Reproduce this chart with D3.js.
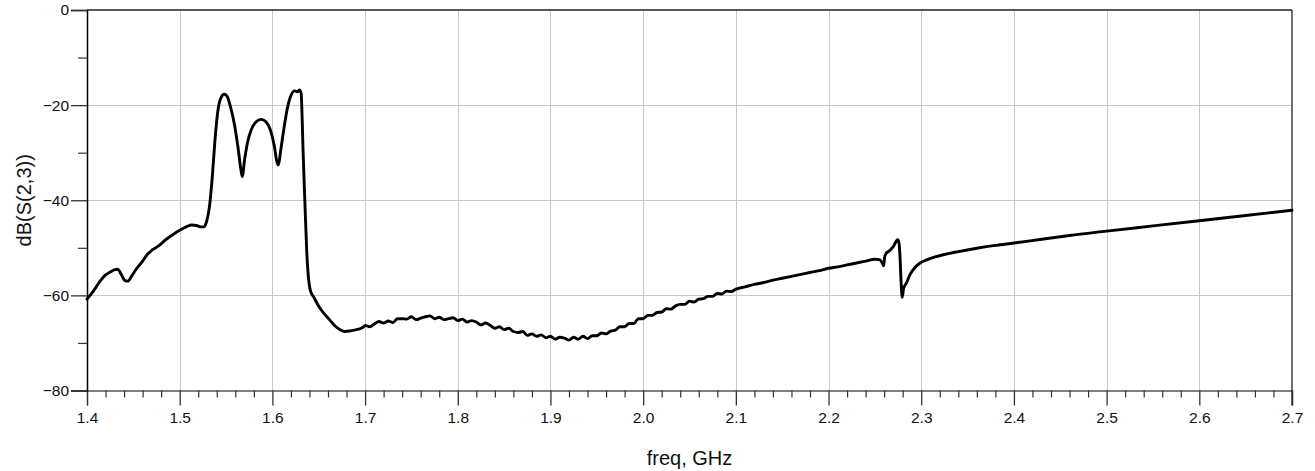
<!DOCTYPE html>
<html>
<head>
<meta charset="utf-8">
<script src="https://cdn.jsdelivr.net/npm/d3@7"></script>
<style>
  html, body { margin: 0; padding: 0; background: #fff; }
  svg { display: block; font-family: "Liberation Sans", Arial, Helvetica, sans-serif; }
</style>
</head>
<body>
<svg id="chart" width="1315" height="471"></svg>
<script>
// ---- Data ----
const freqGHz = [
  1.400,1.405,1.410,1.415,1.420,1.425,1.430,1.433,1.437,1.441,1.444,1.448,1.453,1.460,1.465,1.470,1.478,1.485,1.492,1.500,
  1.507,1.513,1.518,1.523,1.526,1.529,1.532,1.535,1.538,1.541,1.544,1.548,1.551,1.555,1.559,1.563,1.566,1.5675,1.570,1.573,
  1.577,1.582,1.588,1.593,1.598,1.602,1.605,1.6065,1.609,1.612,1.616,1.620,1.624,1.627,1.629,1.631,1.632,1.633,1.635,1.637,
  1.639,1.641,1.645,1.650,1.656,1.662,1.668,1.673,1.678,1.683,1.688,1.693,1.698,
  1.700,1.705,1.710,1.715,1.720,1.725,1.730,1.735,1.740,1.745,1.750,1.755,1.760,1.765,1.770,1.775,1.780,1.785,1.790,1.795,
  1.800,1.805,1.810,1.815,1.820,1.825,1.830,1.835,1.840,1.845,1.850,1.855,1.860,1.865,1.870,1.875,1.880,1.885,1.890,1.895,
  1.900,1.905,1.910,1.915,1.920,1.925,1.930,1.935,1.940,1.945,1.950,1.955,1.960,1.965,1.970,1.975,1.980,1.985,1.990,1.995,
  2.000,2.005,2.010,2.015,2.020,2.025,2.030,2.035,2.040,2.045,2.050,2.055,2.060,2.065,2.070,2.075,2.080,2.085,2.090,2.095,
  2.100,2.110,2.120,2.130,2.140,2.150,2.160,2.170,2.180,2.190,2.200,2.210,2.220,2.230,2.240,2.250,
  2.255,2.258,2.2595,2.2605,2.262,2.266,2.270,2.2745,
  2.276,2.277,2.278,2.2795,2.281,2.284,2.288,2.293,2.298,2.305,2.315,2.325,2.340,2.360,2.380,2.400,2.430,2.460,2.500,2.550,
  2.600,2.650,2.700
];
const dbS23 = [
  -60.8,-59.6,-58.2,-56.8,-55.7,-55.1,-54.6,-54.5,-55.6,-56.9,-57.0,-56.0,-54.5,-52.8,-51.4,-50.5,-49.5,-48.3,-47.3,-46.3,
  -45.6,-45.2,-45.3,-45.6,-45.6,-44.5,-41.5,-35.5,-27.5,-21.5,-18.7,-17.7,-18.1,-20.5,-24.0,-29.0,-33.5,-35.0,-31.5,-28.0,
  -25.3,-23.6,-23.0,-23.5,-25.3,-28.5,-32.0,-32.6,-29.5,-25.5,-20.8,-18.0,-17.0,-17.2,-16.8,-17.5,-22.0,-29.0,-40.0,-50.5,
  -56.5,-59.0,-60.5,-62.3,-63.9,-65.2,-66.5,-67.2,-67.6,-67.5,-67.3,-67.1,-66.7,
  -66.3,-66.6,-66.0,-65.5,-65.8,-65.4,-65.7,-64.9,-64.9,-65.0,-64.5,-65.1,-64.8,-64.5,-64.3,-64.9,-64.6,-65.1,-64.9,-64.7,
  -65.3,-65.0,-65.6,-65.3,-65.6,-66.2,-65.8,-66.3,-66.9,-66.6,-67.2,-66.9,-67.6,-67.8,-67.6,-68.4,-68.1,-68.6,-68.3,-68.9,
  -68.6,-69.2,-68.8,-69.0,-69.4,-68.8,-69.2,-68.6,-69.1,-68.5,-68.5,-67.9,-68.1,-67.5,-67.3,-66.6,-66.6,-65.9,-65.9,-64.9,
  -64.9,-64.2,-64.2,-63.6,-63.5,-62.8,-62.9,-62.2,-61.9,-61.9,-61.2,-61.4,-60.8,-60.7,-60.2,-60.2,-59.6,-59.7,-59.1,-59.2,
  -58.7,-58.2,-57.7,-57.3,-56.8,-56.4,-56.0,-55.6,-55.2,-54.8,-54.3,-54.0,-53.6,-53.2,-52.8,-52.4,
  -52.5,-53.2,-53.8,-52.0,-51.2,-50.6,-49.7,-48.3,
  -49.0,-51.5,-56.0,-60.4,-58.5,-57.4,-55.6,-54.2,-53.3,-52.6,-51.9,-51.4,-50.8,-50.1,-49.5,-49.0,-48.2,-47.4,-46.5,-45.4,
  -44.3,-43.2,-42.1
];
const xMajorTicks = [1.4,1.5,1.6,1.7,1.8,1.9,2.0,2.1,2.2,2.3,2.4,2.5,2.6,2.7];
const yMajorTicks = [0,-20,-40,-60,-80];
const yMinorTicks = [-10,-30,-50,-70];
const xLabel = "freq, GHz";
const yLabel = "dB(S(2,3))";

(function () {
  const svg = d3.select("#chart");
  const mL = 87, mR = 1292, mT = 10, mB = 390.5;

  const x = d3.scaleLinear().domain([1.4, 2.7]).range([mL, mR]);
  const y = d3.scaleLinear().domain([-80, 0]).range([mB, mT]);

  const xMinorTicks = d3.range(0, 66).map(i => +(1.4 + i * 0.02).toFixed(2))
    .filter(v => !xMajorTicks.some(m => Math.abs(m - v) < 1e-6));

  // gridlines
  const grid = svg.append("g").attr("stroke", "#c8c8c8").attr("stroke-width", 1);
  grid.selectAll("line.vx").data(xMajorTicks.slice(1, -1)).join("line")
    .attr("x1", d => Math.round(x(d)) + 0.5).attr("x2", d => Math.round(x(d)) + 0.5)
    .attr("y1", mT).attr("y2", mB);
  grid.selectAll("line.hy").data(yMajorTicks.slice(1, -1)).join("line")
    .attr("y1", d => Math.round(y(d)) + 0.5).attr("y2", d => Math.round(y(d)) + 0.5)
    .attr("x1", mL).attr("x2", mR);

  // X axis
  const gx = svg.append("g").attr("transform", `translate(0,${mB})`)
    .call(d3.axisBottom(x).tickValues(xMajorTicks).tickSize(15).tickPadding(6).tickFormat(d3.format(".1f")));
  gx.select(".domain").attr("stroke", "#555").attr("stroke-width", 1.3);
  gx.selectAll(".tick line").attr("stroke", "#333").attr("stroke-width", 1.3);
  gx.selectAll(".tick text").attr("font-size", 15.5).attr("fill", "#111")
    .attr("font-family", "Liberation Sans, Arial, sans-serif");

  const gxm = svg.append("g").attr("transform", `translate(0,${mB})`)
    .call(d3.axisBottom(x).tickValues(xMinorTicks).tickSize(7).tickFormat(""));
  gxm.select(".domain").remove();
  gxm.selectAll(".tick line").attr("stroke", "#333").attr("stroke-width", 1.2);

  // Y axis
  const gy = svg.append("g").attr("transform", `translate(${mL},0)`)
    .call(d3.axisLeft(y).tickValues(yMajorTicks).tickSize(16).tickPadding(2).tickFormat(d3.format("d")));
  gy.select(".domain").attr("stroke", "#000").attr("stroke-width", 1.5);
  gy.selectAll(".tick line").attr("stroke", "#333").attr("stroke-width", 1.3);
  gy.selectAll(".tick text").attr("font-size", 15.5).attr("fill", "#111")
    .attr("font-family", "Liberation Sans, Arial, sans-serif");

  const gym = svg.append("g").attr("transform", `translate(${mL},0)`)
    .call(d3.axisLeft(y).tickValues(yMinorTicks).tickSize(9).tickFormat(""));
  gym.select(".domain").remove();
  gym.selectAll(".tick line").attr("stroke", "#333").attr("stroke-width", 1.2);

  // top and right frame
  svg.append("line").attr("x1", mL).attr("x2", mR).attr("y1", mT).attr("y2", mT)
    .attr("stroke", "#222").attr("stroke-width", 1.3);
  svg.append("line").attr("x1", mR).attr("x2", mR).attr("y1", mT).attr("y2", mB + 15)
    .attr("stroke", "#222").attr("stroke-width", 1.3);

  // data line
  const pts = freqGHz.map((f, i) => [f, dbS23[i]]);
  const line = d3.line().x(d => x(d[0])).y(d => y(d[1])).curve(d3.curveMonotoneX);
  svg.append("path").datum(pts)
    .attr("d", line)
    .attr("fill", "none")
    .attr("stroke", "#000")
    .attr("stroke-width", 2.9)
    .attr("stroke-linejoin", "round")
    .attr("stroke-linecap", "round");

  // axis titles
  svg.append("text").attr("x", (mL + mR) / 2).attr("y", 465)
    .attr("text-anchor", "middle").attr("font-size", 20).attr("fill", "#111")
    .text(xLabel);
  svg.append("text").attr("transform", `translate(31,${(mT + mB) / 2}) rotate(-90)`)
    .attr("text-anchor", "middle").attr("font-size", 20).attr("fill", "#111")
    .text(yLabel);
})();
</script>
</body>
</html>
